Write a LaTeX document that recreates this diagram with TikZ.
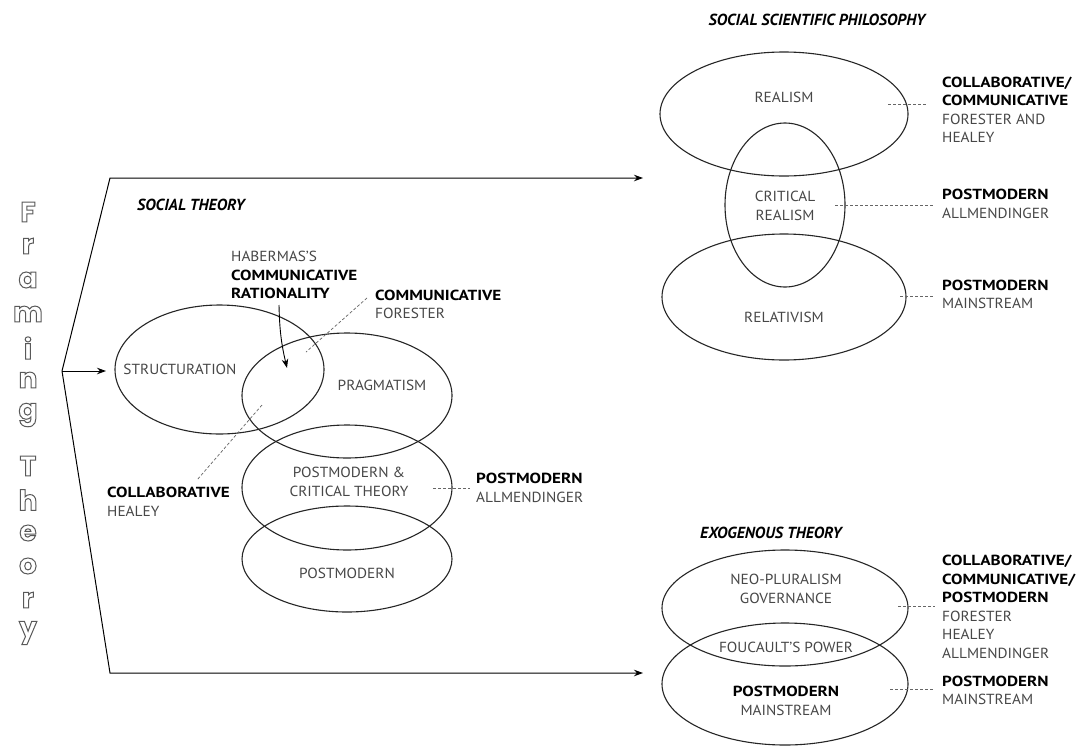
\documentclass[tikz,border=0pt]{standalone}
\usepackage{fontspec}
\setmainfont{PT Sans}[UprightFeatures={FakeStretch=1.05}, BoldFeatures={FakeStretch=1.17}]
\newfontfamily\outlinefont{Poppins}
\usetikzlibrary{arrows.meta,shapes.geometric}
\newcommand\outlinetext[1]{\special{pdf:literal direct 1 Tr 1 w}#1\special{pdf:literal direct 0 Tr}}
\newcommand\bk[1]{\textbf{\color{black}#1}}
\begin{document}
\begin{tikzpicture}[x=1pt,y=-1pt,
  venn/.style={draw=black!85, line width=1.1pt, ellipse, inner sep=0pt},
  lbl/.style={text=black!72, align=center, inner sep=0pt, font=\fontsize{14.6}{18.5}\selectfont},
  note/.style={text=black!72, align=left, anchor=west, inner sep=0pt, font=\fontsize{14.6}{18.5}\selectfont},
  ttl/.style={font=\fontsize{16}{18}\selectfont\bfseries\itshape, text=black, inner sep=0pt},
  conn/.style={line width=1pt, draw=black},
  arrowtip/.style={-{Stealth[length=9pt,width=6.5pt]}},
  guide/.style={draw=black!60, line width=0.7pt, dash pattern=on 3pt off 2pt},
  letter/.style={font=\outlinefont\bfseries\fontsize{28}{28}\selectfont, text=black!65, inner sep=0pt, anchor=center}
]
\fill[white] (0,0) rectangle (1091,747);
\useasboundingbox (0,0) rectangle (1091,747);

% vertical title
\foreach \ch/\yy [count=\i] in {F/212,r/246,a/280,m/314,i/348,n/380,g/415,T/466,h/500,e/533,o/566,r/600,y/633}
  \node[letter] (fl\i) at (28,\yy) {\outlinetext{\ch}};

% main connectors
\coordinate (apex) at (62,371);
\coordinate (bendT) at (110,178);
\coordinate (bendB) at (110,673);
\coordinate (endT) at (643,178);
\coordinate (endB) at (643,673);
\coordinate (endM) at (106,371);
\draw[conn, arrowtip] (apex) -- (bendT) -- (endT);
\draw[conn, arrowtip] (apex) -- (bendB) -- (endB);
\draw[conn, arrowtip] (apex) -- (endM);

% ---------------- social theory
\node[ttl, anchor=west] (stT) at (137,205) {SOCIAL THEORY};
\node[venn, minimum width=209, minimum height=129] (struct) at (219.5,369.5) {};
\node[venn, minimum width=210, minimum height=125] (prag) at (347,395.5) {};
\node[venn, minimum width=210, minimum height=125] (pmct) at (347,487.5) {};
\node[venn, minimum width=210, minimum height=106] (pm) at (347,559) {};
\node[lbl] (structL) at (180,369) {STRUCTURATION};
\node[lbl] (pragL) at (382,385) {PRAGMATISM};
\node[lbl] (pmctL) at (349,482) {POSTMODERN \&\\CRITICAL THEORY};
\node[lbl] (pmL) at (347,573) {POSTMODERN};

\node[note] (habL) at (231,275) {HABERMAS'S\\\bk{COMMUNICATIVE}\\\bk{RATIONALITY}};
\node[note] (forL) at (375,304.5) {\bk{COMMUNICATIVE}\\FORESTER};
\node[note] (heaL) at (107,502) {\bk{COLLABORATIVE}\\HEALEY};
\node[note] (allL) at (476,488) {\bk{POSTMODERN}\\ALLMENDINGER};

\coordinate (habS) at (279,305);
\coordinate (habE) at (287,368);
\draw[conn, line width=0.9pt, arrowtip] (habS) to[bend right=6] (habE);
\coordinate (forA) at (367,298);
\coordinate (forB) at (306,352);
\draw[guide] (forA) -- (forB);
\coordinate (heaA) at (262,405);
\coordinate (heaB) at (197,480);
\draw[guide] (heaA) -- (heaB);
\coordinate (allA) at (433,488);
\coordinate (allB) at (470,488);
\draw[guide] (allA) -- (allB);

% ---------------- social scientific philosophy
\node[ttl] (sspT) at (817,20) {SOCIAL SCIENTIFIC PHILOSOPHY};
\node[venn, minimum width=248, minimum height=124] (real) at (784,114) {};
\node[venn, minimum width=120, minimum height=164] (crit) at (785,205) {};
\node[venn, minimum width=244, minimum height=126] (rel) at (784,297) {};
\node[lbl] (realL) at (784,97) {REALISM};
\node[lbl] (critL) at (785,206) {CRITICAL\\REALISM};
\node[lbl] (relL) at (784,317) {RELATIVISM};
\node[note] (n1) at (942,110) {\bk{COLLABORATIVE/}\\\bk{COMMUNICATIVE}\\FORESTER AND\\HEALEY};
\node[note] (n2) at (942,204) {\bk{POSTMODERN}\\ALLMENDINGER};
\node[note] (n3) at (942,294.5) {\bk{POSTMODERN}\\MAINSTREAM};
\coordinate (d1a) at (888,104); \coordinate (d1b) at (927,104);
\coordinate (d2a) at (835,205); \coordinate (d2b) at (933,205);
\coordinate (d3a) at (900,296); \coordinate (d3b) at (933,296);
\draw[guide] (d1a) -- (d1b);
\draw[guide] (d2a) -- (d2b);
\draw[guide] (d3a) -- (d3b);

% ---------------- exogenous theory
\node[ttl, anchor=west] (exT) at (700,533) {EXOGENOUS THEORY};
\node[venn, minimum width=246, minimum height=116] (neo) at (785,608) {};
\node[venn, minimum width=246, minimum height=122] (pmm) at (785,684) {};
\node[lbl] (neoL) at (786,589) {NEO-PLURALISM\\GOVERNANCE};
\node[lbl] (fouL) at (786,647) {FOUCAULT'S POWER};
\node[lbl] (pmmL) at (786,701) {\bk{POSTMODERN}\\MAINSTREAM};
\node[note] (n4) at (942,607) {\bk{COLLABORATIVE/}\\\bk{COMMUNICATIVE/}\\\bk{POSTMODERN}\\FORESTER\\HEALEY\\ALLMENDINGER};
\node[note] (n5) at (942,690.5) {\bk{POSTMODERN}\\MAINSTREAM};
\coordinate (d4a) at (898,606); \coordinate (d4b) at (935,606);
\coordinate (d5a) at (890,689); \coordinate (d5b) at (933,689);
\draw[guide] (d4a) -- (d4b);
\draw[guide] (d5a) -- (d5b);
\end{tikzpicture}
\end{document}
